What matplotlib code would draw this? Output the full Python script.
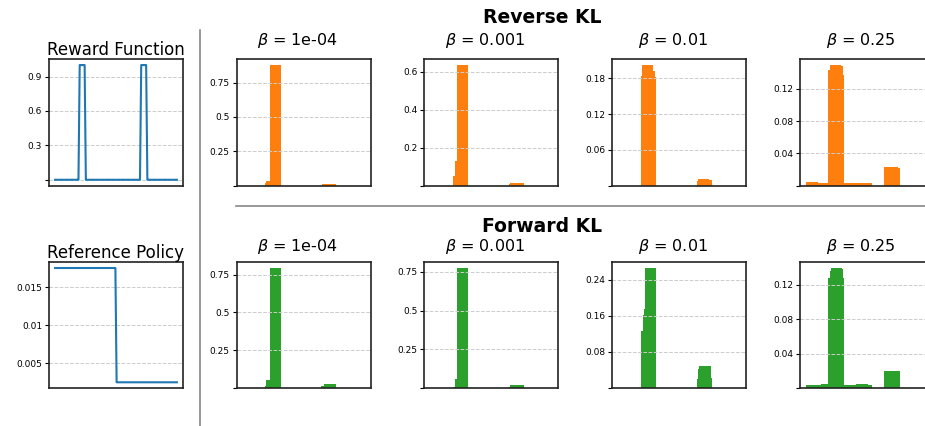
import numpy as np
import matplotlib
matplotlib.use('Agg')
import matplotlib.pyplot as plt
from matplotlib.lines import Line2D
from matplotlib.ticker import FuncFormatter

# --- data ---
n_bins = 100
reward = [0.0] * 20 + [1.0] * 5 + [0.0] * 45 + [1.0] * 5 + [0.0] * 25
ref_policy = [0.0175] * 50 + [0.0025] * 50

betas = ['1e-04', '0.001', '0.01', '0.25']

# (first bin, last bin, probability)
reverse_kl = [
    [(20, 20, 0.017), (21, 21, 0.034), (24, 24, 0.875), (71, 73, 0.012)],
    [(20, 21, 0.05), (22, 23, 0.13), (24, 24, 0.635),
     (70, 70, 0.009), (71, 74, 0.016)],
    [(20, 20, 0.183), (21, 21, 0.2017), (22, 23, 0.193), (24, 24, 0.182),
     (70, 70, 0.0078), (71, 71, 0.0111), (72, 74, 0.0095)],
    [(0, 1, 0.0041), (2, 19, 0.0029), (20, 20, 0.143), (21, 21, 0.149),
     (22, 23, 0.148), (24, 24, 0.137), (25, 49, 0.0029),
     (70, 72, 0.0227), (73, 74, 0.0214)],
]
forward_kl = [
    [(20, 20, 0.011), (21, 21, 0.055), (24, 24, 0.792),
     (70, 72, 0.011), (73, 73, 0.024)],
    [(20, 21, 0.0065), (22, 23, 0.058), (24, 24, 0.774),
     (70, 70, 0.0043), (71, 74, 0.017)],
    [(20, 21, 0.126), (22, 22, 0.161), (23, 23, 0.174), (24, 24, 0.265),
     (70, 70, 0.021), (71, 71, 0.042), (72, 73, 0.048), (74, 74, 0.022)],
    [(0, 12, 0.0031), (13, 19, 0.0043), (20, 20, 0.128), (21, 21, 0.136),
     (22, 22, 0.139), (23, 23, 0.138), (24, 24, 0.128), (25, 44, 0.0031),
     (45, 45, 0.0043), (46, 49, 0.0031), (70, 74, 0.0198)],
]

reward_ticks = [0, 0.3, 0.6, 0.9]
ref_ticks = [0.005, 0.01, 0.015]
reverse_ticks = [[0, 0.25, 0.5, 0.75], [0, 0.2, 0.4, 0.6],
                 [0, 0.06, 0.12, 0.18], [0, 0.04, 0.08, 0.12]]
forward_ticks = [[0, 0.25, 0.5, 0.75], [0, 0.25, 0.5, 0.75],
                 [0, 0.08, 0.16, 0.24], [0, 0.04, 0.08, 0.12]]


def to_probs(segments):
    p = np.zeros(n_bins)
    for a, b, v in segments:
        p[a:b + 1] = v
    return p


W, H = 925, 426
fig = plt.figure(figsize=(W / 100, H / 100), dpi=100)


def add_ax(left, top, right, bottom):
    return fig.add_axes([left / W, 1 - bottom / H, (right - left) / W, (bottom - top) / H])


fmt = FuncFormatter(lambda v, pos: '' if abs(v) < 1e-12 else '%g' % v)


def style(ax, ticks):
    ax.set_xticks([])
    ax.set_yticks(ticks)
    ax.yaxis.set_major_formatter(fmt)
    ax.tick_params(axis='y', labelsize=6.5, length=3, width=0.8, pad=2)
    ax.grid(axis='y', linestyle='--', color='#cccccc', linewidth=0.7)
    for s in ax.spines.values():
        s.set_linewidth(1.2)
        s.set_color('#222222')


x = np.arange(n_bins)

ax = add_ax(49, 59.3, 183, 185.5)
ax.plot(x, reward, color='#1f77b4', lw=1.5)
style(ax, reward_ticks)
ax.set_title('Reward Function', fontsize=12, pad=2.5)

ax = add_ax(49, 262.3, 183, 388)
ax.plot(x, ref_policy, color='#1f77b4', lw=1.5)
style(ax, ref_ticks)
ax.set_title('Reference Policy', fontsize=12, pad=2.5)

lefts = [236.7, 424.3, 612.3, 800]
rows = [(reverse_kl, reverse_ticks, '#ff7f0e', 59.3, 185.7, 45),
        (forward_kl, forward_ticks, '#2ca02c', 262.3, 388, 250.5)]
for data, ticks, color, top, bottom, base in rows:
    for i, left in enumerate(lefts):
        ax = add_ax(left, top, left + 134, bottom)
        ax.bar(x, to_probs(data[i]), width=10, color=color, linewidth=0)
        style(ax, ticks[i])
        fig.text((left + 67 - 6) / W, 1 - base / H, r'$\beta$ = ' + betas[i],
                 ha='center', va='baseline', fontsize=11.5)

fig.text(542 / W, 1 - 23 / H, 'Reverse KL', ha='center', va='baseline',
         fontsize=13.5, fontweight='bold')
fig.text(542 / W, 1 - 232 / H, 'Forward KL', ha='center', va='baseline',
         fontsize=13.5, fontweight='bold')

fig.add_artist(Line2D([200 / W, 200 / W], [0, 1 - 30 / H], transform=fig.transFigure,
                      color='#888888', lw=1.2))
fig.add_artist(Line2D([236 / W, 1], [1 - 206 / H, 1 - 206 / H], transform=fig.transFigure,
                      color='#888888', lw=1.2))

fig.savefig('out.png', dpi=100)
